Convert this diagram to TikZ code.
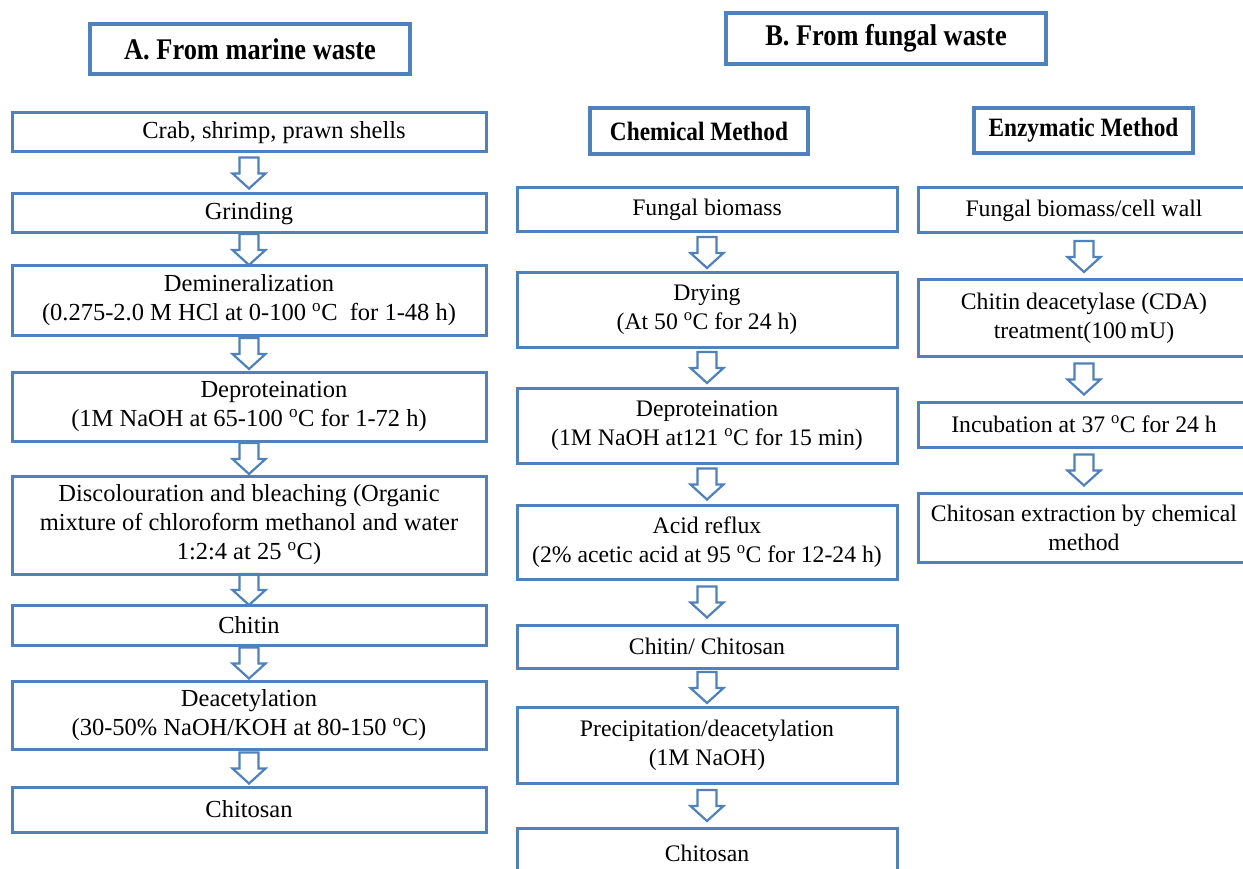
\documentclass[tikz,border=0pt]{standalone}
\usepackage{fontspec}
\setmainfont{Liberation Serif}
\newfontfamily\hdfont[FakeStretch=0.88]{Liberation Serif}
\usetikzlibrary{calc}
\definecolor{bxblue}{RGB}{79,129,189}
\newcommand{\degc}{\textsuperscript{o}C}
\tikzset{
 box/.style={draw=bxblue, line width=3pt, inner sep=0pt, outer sep=0pt, align=center},
 abox/.style={box, minimum width=474pt, font=\fontsize{24.5}{29}\selectfont},
 cbox/.style={box, minimum width=380pt, font=\fontsize{23.7}{29}\selectfont},
 ebox/.style={box, minimum width=332pt, font=\fontsize{23.7}{29}\selectfont},
 hbox/.style={box, line width=3.3pt, font=\hdfont\bfseries\fontsize{30}{34}\selectfont},
 sbox/.style={box, line width=3.3pt, font=\hdfont\bfseries\fontsize{26.5}{30}\selectfont},
 darrow/.pic={\draw[draw=bxblue, line width=2.2pt, line join=miter]
   (-9.5,-15.5) -- (9.5,-15.5) -- (9.5,0.5) -- (16.5,0.5) -- (0,15.5) -- (-16.5,0.5) -- (-9.5,0.5) -- cycle;}
}
\begin{document}
\begin{tikzpicture}[x=1pt,y=-1pt]
\fill[white] (0,0) rectangle (1243,869);
\useasboundingbox (0,0) rectangle (1243,869);

% headers
\node[hbox, minimum width=320pt, minimum height=50pt] (hA) at (250,49) {A. From marine waste};
\node[hbox, minimum width=320pt, minimum height=51pt] (hB) at (886,38.5) {B. From fungal waste};
\node[sbox, minimum width=218pt, minimum height=46pt] (hC) at (699,131) {Chemical Method};
\node[sbox, minimum width=219pt, minimum height=45pt] (hE) at (1083.5,130.5) {Enzymatic Method};

% column A
\node[abox, minimum height=39pt] (a1) at (249,132.5) {\hspace*{50pt}Crab, shrimp, prawn shells};
\node[abox, minimum height=39pt] (a2) at (249,213.5) {Grinding};
\node[abox, minimum height=69pt] (a3) at (249,300.5) {Demineralization\\(0.275-2.0 M HCl at 0-100 \degc~ for 1-48 h)};
\node[abox, minimum height=69pt] (a4) at (249,406.5) {\hspace*{50pt}Deproteination\\(1M NaOH at 65-100 \degc{} for 1-72 h)};
\node[abox, minimum height=98pt] (a5) at (249,525) {Discolouration and bleaching (Organic\\mixture of chloroform methanol and water\\1:2:4 at 25 \degc)};
\node[abox, minimum height=40pt] (a6) at (249,625) {Chitin};
\node[abox, minimum height=68pt] (a7) at (249,715) {Deacetylation\\(30-50\% NaOH/KOH at 80-150 \degc)};
\node[abox, minimum height=45pt] (a8) at (249,809.5) {Chitosan};

% column B chemical
\node[cbox, minimum height=44pt] (c1) at (707,210) {Fungal biomass};
\node[cbox, minimum height=74pt] (c2) at (707,310) {Drying\\(At 50 \degc{} for 24 h)};
\node[cbox, minimum height=75pt] (c3) at (707,425.5) {Deproteination\\(1M NaOH at121 \degc{} for 15 min)};
\node[cbox, minimum height=74pt] (c4) at (707,542) {Acid reflux\\(2\% acetic acid at 95 \degc{} for 12-24 h)};
\node[cbox, minimum height=43pt] (c5) at (707,646.5) {Chitin/ Chitosan};
\node[cbox, minimum height=76pt] (c6) at (707,745) {Precipitation/deacetylation\\(1M NaOH)};
\node[cbox, minimum height=50pt] (c7) at (707,853) {Chitosan};

% column B enzymatic
\node[ebox, minimum height=45pt] (e1) at (1084,210.5) {Fungal biomass/cell wall};
\node[ebox, minimum height=76pt] (e2) at (1084,318) {Chitin deacetylase (CDA)\\treatment(100\,mU)};
\node[ebox, minimum height=45pt] (e3) at (1084,424.5) {Incubation at 37 \degc{} for 24 h};
\node[ebox, minimum height=69pt] (e4) at (1084,527.5) {Chitosan extraction by chemical\\method};

% arrows
\foreach \p/\q in {a1/a2,a2/a3,a3/a4,a4/a5,a5/a6,a6/a7,a7/a8,
                   c1/c2,c2/c3,c3/c4,c4/c5,c5/c6,c6/c7,
                   e1/e2,e2/e3,e3/e4}
  \pic at ($(\p.south)!0.5!(\q.north)$) {darrow};
\end{tikzpicture}
\end{document}
